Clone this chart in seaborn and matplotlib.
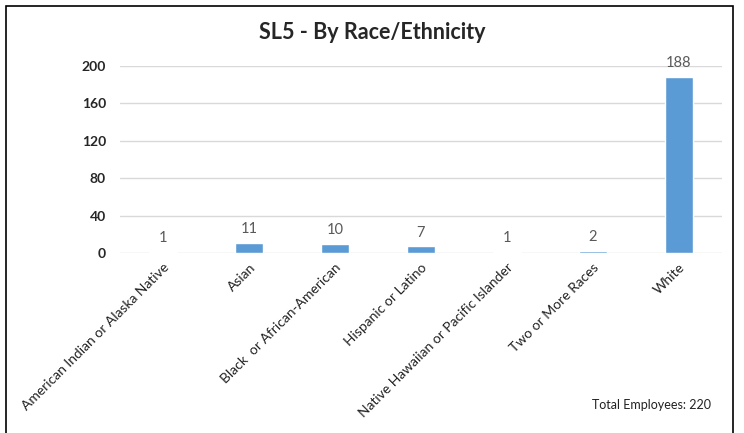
import matplotlib
matplotlib.use("Agg")
import matplotlib.pyplot as plt
import seaborn as sns
import pandas as pd
from matplotlib.patches import Rectangle

# --- DATA ---
categories = [
    "American Indian or Alaska Native",
    "Asian",
    "Black  or African-American",
    "Hispanic or Latino",
    "Native Hawaiian or Pacific Islander",
    "Two or More Races",
    "White",
]
counts = [1, 11, 10, 7, 1, 2, 188]
y_ticks = [0, 40, 80, 120, 160, 200]
title = "SL5 - By Race/Ethnicity"
footnote = "Total Employees: 220"

BAR_COLOR = "#5B9BD5"
GRID_COLOR = "#D9D9D9"

sns.set_style("white")
plt.rcParams["font.family"] = ["Lato", "DejaVu Sans"]

df = pd.DataFrame({"Race": categories, "Count": counts})

fig = plt.figure(figsize=(7.44, 4.33), dpi=100)
ax = fig.add_axes([0.1613, 0.4157, 0.8091, 0.4319])

sns.barplot(data=df, x="Race", y="Count", ax=ax, color=BAR_COLOR,
            width=0.33, saturation=1, order=categories)

ax.set_ylim(0, 200)
ax.set_yticks(y_ticks)
ax.set_yticklabels([str(t) for t in y_ticks], fontsize=10, fontweight="bold")
ax.yaxis.grid(True, color=GRID_COLOR, linewidth=1)
ax.set_axisbelow(True)
for s in ax.spines.values():
    s.set_visible(False)
ax.tick_params(axis="both", length=0)
ax.tick_params(axis="y", pad=10)
ax.set_xlabel("")
ax.set_ylabel("")

ax.set_xticks(range(len(categories)))
ax.set_xticklabels(categories, rotation=45, ha="right", rotation_mode="anchor",
                   fontsize=10, color="#222222")
ax.tick_params(axis="x", pad=6)

for i, v in enumerate(counts):
    ax.annotate(str(v), (i, v), xytext=(0, 5), textcoords="offset points",
                ha="center", va="bottom", fontsize=10.5, color="#595959",
                annotation_clip=False)

fig.text(0.5, 0.924, title, ha="center", va="center", fontsize=15.5,
         fontweight="bold")
fig.text(0.955, 0.064, footnote, ha="right", va="center", fontsize=9,
         color="#222222")

# chart frame
fig.add_artist(Rectangle((0.008, -0.01), 0.977, 0.997, transform=fig.transFigure,
                         fill=False, edgecolor="black", linewidth=1.2))

fig.savefig("out.png", dpi=100)
